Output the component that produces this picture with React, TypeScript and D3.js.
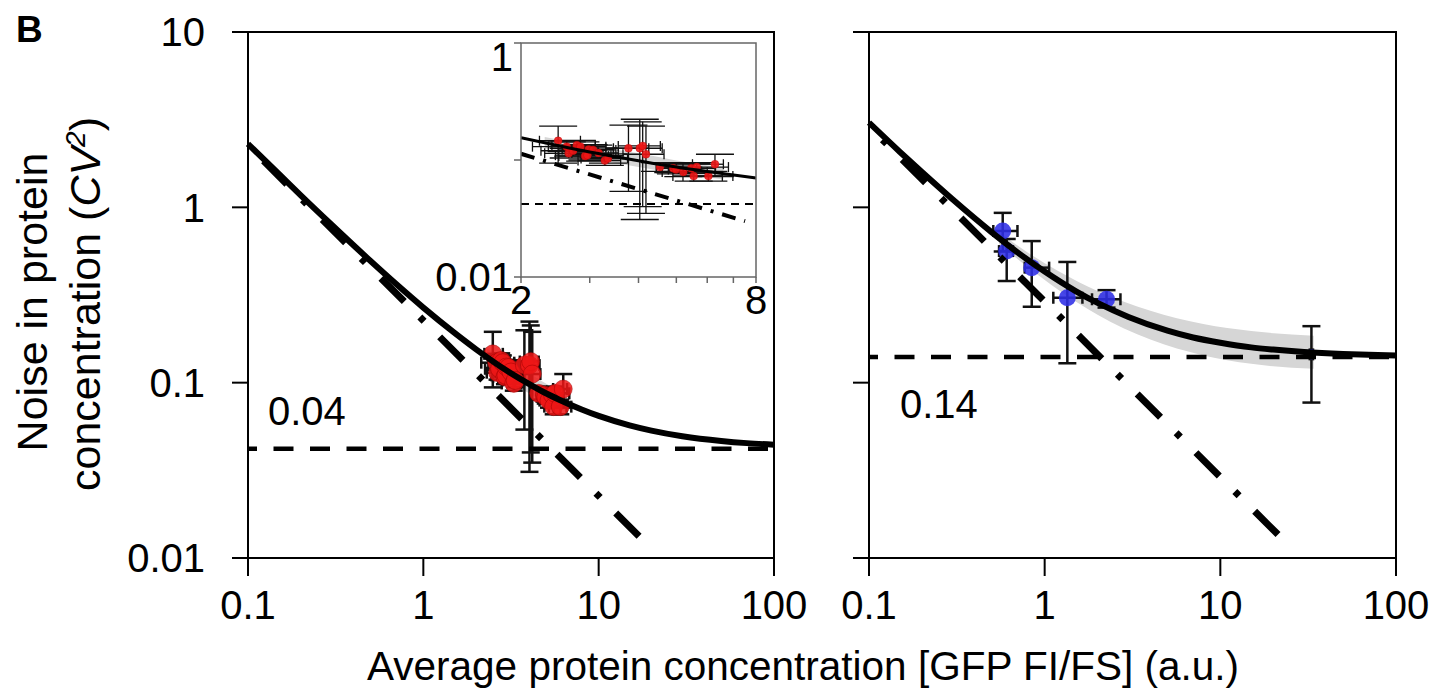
import React from 'react';
import * as d3 from 'd3';

const FONT = '"Liberation Sans", Arial, Helvetica, sans-serif';

// axis ticks
const xTickValues = [0.1, 1, 10, 100];
const xTickLabels = ['0.1', '1', '10', '100'];
const yTickValues = [0.01, 0.1, 1, 10];
const yTickLabels = ['0.01', '0.1', '1', '10'];

const insetXTickValues = [2, 3, 4, 5, 6, 7, 8];
const insetXTickLabels = ['2', '', '', '', '', '', '8'];
const insetYTickValues = [0.01, 0.1, 1];
const insetYTickLabels = ['0.01', '', '1'];

// left panel: red points (with error bars)
const redX = [2.49, 2.62, 2.65, 2.72, 2.78, 2.84, 2.92, 2.96, 2.98, 3.06, 3.16, 3.28, 3.34, 3.77, 4.03, 4.10, 4.18, 4.54, 4.91, 4.99, 5.21, 5.46, 5.54, 5.64, 6.04, 6.28];
const redY = [0.146, 0.130, 0.114, 0.120, 0.134, 0.130, 0.108, 0.110, 0.123, 0.122, 0.115, 0.099, 0.103, 0.126, 0.126, 0.132, 0.112, 0.087, 0.085, 0.083, 0.079, 0.085, 0.073, 0.087, 0.073, 0.092];
const redXLo = [2.23, 2.14, 2.30, 2.25, 2.40, 2.35, 2.50, 2.45, 2.55, 2.60, 2.70, 2.80, 2.85, 3.30, 3.45, 3.55, 3.65, 4.44, 4.45, 4.77, 4.60, 4.80, 4.90, 5.00, 5.20, 5.50];
const redXHi = [2.84, 3.10, 3.00, 3.15, 3.10, 3.30, 3.35, 3.40, 3.45, 3.50, 3.55, 3.60, 3.75, 4.25, 4.60, 4.55, 4.65, 5.20, 5.40, 5.50, 6.00, 6.30, 6.56, 6.80, 6.98, 6.60];
const redYLo = [0.094, 0.118, 0.104, 0.108, 0.122, 0.118, 0.098, 0.100, 0.112, 0.112, 0.105, 0.090, 0.094, 0.054, 0.031, 0.040, 0.035, 0.080, 0.078, 0.076, 0.072, 0.077, 0.066, 0.079, 0.066, 0.072];
const redYHi = [0.195, 0.143, 0.126, 0.132, 0.147, 0.143, 0.119, 0.121, 0.135, 0.134, 0.127, 0.109, 0.113, 0.199, 0.223, 0.212, 0.195, 0.095, 0.093, 0.091, 0.087, 0.093, 0.080, 0.095, 0.080, 0.112];

// left panel: fitted curve, power-law asymptote, floor, confidence band
const leftFitX = [0.1, 0.15, 0.2, 0.3, 0.5, 0.7, 1, 1.5, 2, 3, 4, 5, 6, 8, 10, 15, 20, 30, 50, 70, 100];
const leftFitY = [2.30, 1.55, 1.17, 0.795, 0.494, 0.365, 0.268, 0.193, 0.155, 0.117, 0.0985, 0.087, 0.0797, 0.0703, 0.0646, 0.0571, 0.0533, 0.0495, 0.0465, 0.0452, 0.0443];
const leftPowX = [0.1, 17];
const leftPowY = [2.26, 0.0133];
const insetPowX = [2, 7.5];
const insetPowY = [0.113, 0.030];
const leftFloor = 0.042;
const leftFloorLabel = '0.04';
const leftBandX = [2.3, 3, 4, 5, 6.6];
const leftBandHi = [0.157, 0.133, 0.114, 0.099, 0.086];
const leftBandLo = [0.126, 0.104, 0.087, 0.077, 0.068];

// right panel: blue points
const blueX = [0.577, 0.608, 0.844, 1.346, 2.25, 33];
const blueY = [0.733, 0.563, 0.453, 0.305, 0.299, 0.145];
const blueXLo = [0.51, 0.55, 0.77, 1.12, 1.86, 32.3];
const blueXHi = [0.70, 0.66, 1.06, 1.64, 2.70, 33.7];
const blueYLo = [0.56, 0.38, 0.271, 0.129, 0.268, 0.077];
const blueYHi = [0.93, 0.66, 0.642, 0.488, 0.337, 0.21];
const blueR = [8.5, 8.5, 8.5, 8.5, 8.5, 5];

const rightFitX = [0.1, 0.15, 0.2, 0.3, 0.5, 0.7, 1, 1.5, 2, 3, 5, 7, 10, 15, 20, 30, 50, 70, 100];
const rightFitY = [3.04, 2.07, 1.59, 1.107, 0.72, 0.554, 0.43, 0.333, 0.285, 0.237, 0.198, 0.181, 0.169, 0.159, 0.1545, 0.1497, 0.1458, 0.1441, 0.1429];
const rightPowX = [0.1, 21.3];
const rightPowY = [2.9, 0.0136];
const rightFloor = 0.14;
const rightFloorLabel = '0.14';
const rightBandX = [0.55, 0.8, 1.2, 2, 4, 8, 15, 34];
const rightBandHi = [0.72, 0.553, 0.432, 0.333, 0.257, 0.216, 0.197, 0.185];
const rightBandLo = [0.618, 0.457, 0.338, 0.244, 0.176, 0.143, 0.128, 0.12];

const yMain = d3.scaleLog().domain([0.01, 10]).range([558, 32]);
const xLeft = d3.scaleLog().domain([0.1, 100]).range([248, 774]);
const xRight = d3.scaleLog().domain([0.1, 100]).range([869, 1396]);
const xInset = d3.scaleLog().domain([2, 8]).range([521, 756]);
const yInset = d3.scaleLog().domain([0.01, 1]).range([277, 43]);

type Scale = d3.ScaleLogarithmic<number, number>;

const DASHDOT = [33, 22, 6, 22];

const zip = (xs: number[], ys: number[]) => xs.map((x, i) => [x, ys[i]] as [number, number]);

function linePath(x: Scale, y: Scale, xs: number[], ys: number[]) {
  return d3.line<[number, number]>()
    .x(d => x(d[0]))
    .y(d => y(d[1]))
    .curve(d3.curveMonotoneX)(zip(xs, ys)) || '';
}

function bandPath(x: Scale, y: Scale, xs: number[], lo: number[], hi: number[]) {
  return d3.area<number>()
    .x(d => x(d))
    .y0((d, i) => y(lo[i]))
    .y1((d, i) => y(hi[i]))
    .curve(d3.curveMonotoneX)(xs) || '';
}

// shift the dash pattern so the straight asymptote ends on a long dash
function dashOffset(x: Scale, y: Scale, xs: number[], ys: number[]) {
  const len = Math.hypot(x(xs[1]) - x(xs[0]), y(ys[1]) - y(ys[0]));
  const period = d3.sum(DASHDOT);
  return DASHDOT[0] - (len % period);
}

function ErrorBars({ x, y, px, py, xlo, xhi, ylo, yhi, capW, capH, sw }: any) {
  return (
    <g stroke="#111" strokeWidth={sw} fill="none">
      {px.map((v: number, i: number) => {
        const cx = x(v), cy = y(py[i]);
        const l = x(xlo[i]), r = x(xhi[i]), t = y(yhi[i]), b = y(ylo[i]);
        return (
          <g key={i}>
            <line x1={cx} x2={cx} y1={t} y2={b} />
            <line x1={cx - capW} x2={cx + capW} y1={t} y2={t} />
            <line x1={cx - capW} x2={cx + capW} y1={b} y2={b} />
            <line x1={l} x2={r} y1={cy} y2={cy} />
            <line x1={l} x2={l} y1={cy - capH} y2={cy + capH} />
            <line x1={r} x2={r} y1={cy - capH} y2={cy + capH} />
          </g>
        );
      })}
    </g>
  );
}

function Frame({ x, y, showLabels }: { x: Scale; y: Scale; showLabels: boolean }) {
  const [x0, x1] = x.range();
  const [y1, y0] = y.range();
  return (
    <g fontFamily={FONT} fontSize={40}>
      <rect x={x0} y={y0} width={x1 - x0} height={y1 - y0} fill="none" stroke="#000" strokeWidth={2} />
      {yTickValues.map((v, i) => (
        <g key={'y' + i}>
          <line x1={x0 - 16} x2={x0} y1={y(v)} y2={y(v)} stroke="#000" strokeWidth={2} />
          {showLabels && (
            <text x={x0 - 43} y={y(v)} dy="0.36em" textAnchor="end">{yTickLabels[i]}</text>
          )}
        </g>
      ))}
      {xTickValues.map((v, i) => (
        <g key={'x' + i}>
          <line x1={x(v)} x2={x(v)} y1={y1} y2={y1 + 18} stroke="#000" strokeWidth={2} />
          <text x={x(v)} y={y1 + 61} textAnchor="middle">{xTickLabels[i]}</text>
        </g>
      ))}
    </g>
  );
}

function Inset() {
  const [x0, x1] = xInset.range();
  const [y1, y0] = yInset.range();
  const fitIdx = leftFitX.map((v, i) => i).filter(i => leftFitX[i] >= 2 && leftFitX[i] <= 8);
  return (
    <g>
      <rect x={x0} y={y0} width={x1 - x0} height={y1 - y0} fill="#fff" />
      <defs>
        <clipPath id="insetClip">
          <rect x={x0} y={y0} width={x1 - x0} height={y1 - y0} />
        </clipPath>
      </defs>
      <g clipPath="url(#insetClip)">
        <path d={bandPath(xInset, yInset, leftBandX, leftBandLo, leftBandHi)} fill="#d6d6d6" />
        <ErrorBars x={xInset} y={yInset} px={redX} py={redY} xlo={redXLo} xhi={redXHi} ylo={redYLo} yhi={redYHi} capW={19} capH={5} sw={1.3} />
        {redX.map((v, i) => (
          <circle key={i} cx={xInset(v)} cy={yInset(redY[i])} r={4} fill="rgba(238,22,22,0.9)" stroke="rgba(170,0,0,0.5)" strokeWidth={0.6} />
        ))}
        <path d={linePath(xInset, yInset, fitIdx.map(i => leftFitX[i]), fitIdx.map(i => leftFitY[i]))} fill="none" stroke="#000" strokeWidth={3} />
        <path d={linePath(xInset, yInset, insetPowX, insetPowY)} fill="none" stroke="#000" strokeWidth={4} strokeDasharray="14 9 3 9" />
        <line x1={x0} x2={x1} y1={yInset(leftFloor)} y2={yInset(leftFloor)} stroke="#000" strokeWidth={2} strokeDasharray="8 6" />
      </g>
      <rect x={x0} y={y0} width={x1 - x0} height={y1 - y0} fill="none" stroke="#666" strokeWidth={1.5} />
      <g fontFamily={FONT} fontSize={40}>
        {insetYTickValues.map((v, i) => (
          <g key={'iy' + i}>
            <line x1={x0 - 7} x2={x0} y1={yInset(v)} y2={yInset(v)} stroke="#666" strokeWidth={1.5} />
            {insetYTickLabels[i] && (
              <text x={x0 - 8} y={v === 1 ? yInset(v) + 28 : yInset(v)} dy={v === 1 ? 0 : '0.36em'} textAnchor="end">{insetYTickLabels[i]}</text>
            )}
          </g>
        ))}
        {insetXTickValues.map((v, i) => (
          <g key={'ix' + i}>
            <line x1={xInset(v)} x2={xInset(v)} y1={y1} y2={y1 + 6} stroke="#666" strokeWidth={1.5} />
            {insetXTickLabels[i] && (
              <text x={xInset(v)} y={y1 + 37} textAnchor="middle">{insetXTickLabels[i]}</text>
            )}
          </g>
        ))}
      </g>
    </g>
  );
}

export default function App() {
  return (
    <svg width={1436} height={690} style={{ position: 'absolute', left: 0, top: 0, background: '#fff' }} fontFamily={FONT}>
      <text x={16} y={42} fontSize={37} fontWeight="bold">B</text>

      {/* left panel */}
      <path d={bandPath(xLeft, yMain, leftBandX, leftBandLo, leftBandHi)} fill="#d6d6d6" />
      <ErrorBars x={xLeft} y={yMain} px={redX} py={redY} xlo={redXLo} xhi={redXHi} ylo={redYLo} yhi={redYHi} capW={9} capH={6} sw={2.5} />
      {redX.map((v, i) => (
        <circle key={i} cx={xLeft(v)} cy={yMain(redY[i])} r={9} fill="rgba(238,22,22,0.85)" stroke="rgba(150,0,0,0.45)" strokeWidth={1} />
      ))}
      <path d={linePath(xLeft, yMain, leftFitX, leftFitY)} fill="none" stroke="#000" strokeWidth={6} />
      <path d={linePath(xLeft, yMain, leftPowX, leftPowY)} fill="none" stroke="#000" strokeWidth={7}
        strokeDasharray={DASHDOT.join(' ')} strokeDashoffset={dashOffset(xLeft, yMain, leftPowX, leftPowY)} />
      <line x1={248} x2={774} y1={yMain(leftFloor)} y2={yMain(leftFloor)} stroke="#000" strokeWidth={4.5} strokeDasharray="20 16.5" strokeDashoffset={11} />
      <text x={268} y={425} fontSize={40}>{leftFloorLabel}</text>
      <Frame x={xLeft} y={yMain} showLabels={true} />
      <Inset />

      {/* right panel */}
      <path d={bandPath(xRight, yMain, rightBandX, rightBandLo, rightBandHi)} fill="#d6d6d6" />
      <ErrorBars x={xRight} y={yMain} px={blueX} py={blueY} xlo={blueXLo} xhi={blueXHi} ylo={blueYLo} yhi={blueYHi} capW={9} capH={6} sw={2.5} />
      {blueX.map((v, i) => (
        <circle key={i} cx={xRight(v)} cy={yMain(blueY[i])} r={blueR[i]} fill="rgba(45,45,230,0.88)" />
      ))}
      <path d={linePath(xRight, yMain, rightFitX, rightFitY)} fill="none" stroke="#000" strokeWidth={6} />
      <path d={linePath(xRight, yMain, rightPowX, rightPowY)} fill="none" stroke="#000" strokeWidth={7}
        strokeDasharray={DASHDOT.join(' ')} strokeDashoffset={dashOffset(xRight, yMain, rightPowX, rightPowY)} />
      <line x1={869} x2={1396} y1={yMain(rightFloor)} y2={yMain(rightFloor)} stroke="#000" strokeWidth={4.5} strokeDasharray="20 16.5" strokeDashoffset={11} />
      <text x={900} y={418} fontSize={40}>{rightFloorLabel}</text>
      <Frame x={xRight} y={yMain} showLabels={false} />

      {/* axis titles */}
      <text x={803} y={680} fontSize={40.5} textAnchor="middle">Average protein concentration [GFP FI/FS] (a.u.)</text>
      <text transform="translate(47,302) rotate(-90)" fontSize={43} textAnchor="middle">Noise in protein</text>
      <text transform="translate(100,304) rotate(-90)" fontSize={43} textAnchor="middle">
        concentration (<tspan fontStyle="italic">CV</tspan><tspan fontStyle="italic" fontSize={28} dy={-15}>2</tspan><tspan dy={15}>)</tspan>
      </text>
    </svg>
  );
}
